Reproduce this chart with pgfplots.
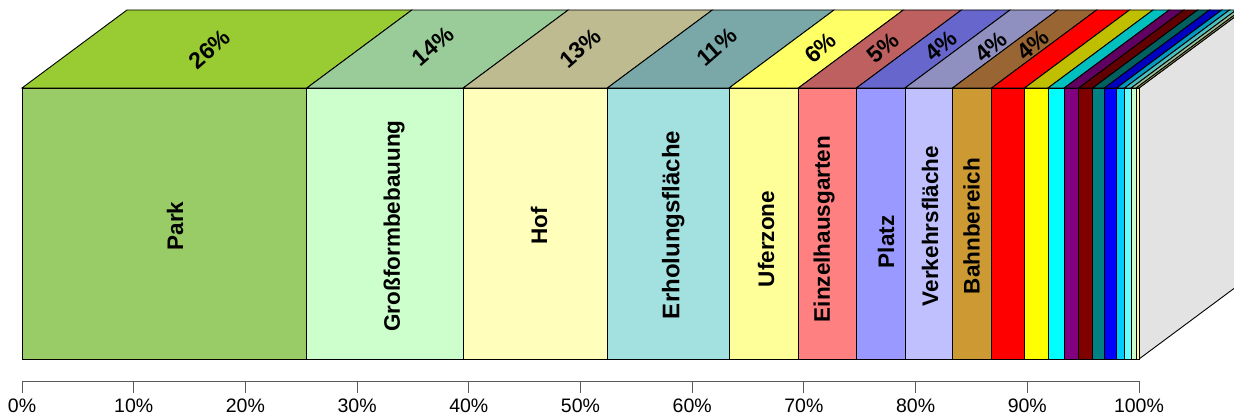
\documentclass[border=0pt]{standalone}
\usepackage{fontspec}
\setmainfont{Liberation Sans}
\usepackage{pgfplots}
\pgfplotsset{compat=1.18}
% one block: left/right edge of the front face, the same edges shifted along the depth, front and top colours
\newcommand{\slab}[6]{%
  \addplot[draw=black,line width=0.9pt,fill={#6}] coordinates {(#1,271)(#2,271)(#4,349)(#3,349)} -- cycle;
  \addplot[draw=black,line width=0.9pt,fill={#5}] coordinates {(#1,0)(#2,0)(#2,271)(#1,271)} -- cycle;
}
\definecolor{f1}{HTML}{99CC66}\definecolor{t1}{HTML}{99CC33}
\definecolor{f2}{HTML}{CCFFCC}\definecolor{t2}{HTML}{99CC99}
\definecolor{f3}{HTML}{FFFFBB}\definecolor{t3}{HTML}{BFBB90}
\definecolor{f4}{HTML}{A3E0E0}\definecolor{t4}{HTML}{7AA8A8}
\definecolor{f5}{HTML}{FFFF99}\definecolor{t5}{HTML}{FFFF66}
\definecolor{f6}{HTML}{FF8080}\definecolor{t6}{HTML}{BF6060}
\definecolor{f7}{HTML}{9999FF}\definecolor{t7}{HTML}{6666CC}
\definecolor{f8}{HTML}{C0C0FF}\definecolor{t8}{HTML}{9090C0}
\definecolor{f9}{HTML}{CC9933}\definecolor{t9}{HTML}{996633}
\definecolor{f10}{HTML}{FF0000}\definecolor{t10}{HTML}{FF0000}
\definecolor{f11}{HTML}{FFFF00}\definecolor{t11}{HTML}{BFBF00}
\definecolor{f12}{HTML}{00FFFF}\definecolor{t12}{HTML}{00BFBF}
\definecolor{f13}{HTML}{800080}\definecolor{t13}{HTML}{600060}
\definecolor{f14}{HTML}{800000}\definecolor{t14}{HTML}{600000}
\definecolor{f15}{HTML}{008080}\definecolor{t15}{HTML}{006060}
\definecolor{f16}{HTML}{0000FF}\definecolor{t16}{HTML}{0000C0}
\definecolor{f17}{HTML}{00CCFF}\definecolor{t17}{HTML}{0099BF}
\definecolor{f18}{HTML}{66FFFF}\definecolor{t18}{HTML}{4DBFBF}
\definecolor{f19}{HTML}{CCFFCC}\definecolor{t19}{HTML}{99BF99}
\definecolor{f20}{HTML}{FFFF99}\definecolor{t20}{HTML}{BFBF73}
\begin{document}
\begin{tikzpicture}[x=1pt,y=1pt]
\useasboundingbox (0,0) rectangle (1234,419);
\begin{axis}[
  at={(0pt,0pt)},anchor=south west,
  scale only axis,width=1234pt,height=419pt,
  xmin=-1.97,xmax=108.5,ymin=-60,ymax=359,
  hide axis,
]
  % right-hand side wall of the block
  \addplot[draw=black,line width=0.9pt,fill={rgb,255:red,227;green,227;blue,227}] coordinates {(100,0)(109.4,78)(109.4,349)(100,271)} -- cycle;
  \slab{0}{25.5}{9.4}{34.9}{f1}{t1}
  \slab{25.5}{39.5}{34.9}{48.9}{f2}{t2}
  \slab{39.5}{52.4}{48.9}{61.8}{f3}{t3}
  \slab{52.4}{63.3}{61.8}{72.7}{f4}{t4}
  \slab{63.3}{69.5}{72.7}{78.9}{f5}{t5}
  \slab{69.5}{74.7}{78.9}{84.1}{f6}{t6}
  \slab{74.7}{79.05}{84.1}{88.45}{f7}{t7}
  \slab{79.05}{83.3}{88.45}{92.7}{f8}{t8}
  \slab{83.3}{86.8}{92.7}{96.2}{f9}{t9}
  \slab{86.8}{89.75}{96.2}{99.15}{f10}{t10}
  \slab{89.75}{91.85}{99.15}{101.25}{f11}{t11}
  \slab{91.85}{93.3}{101.25}{102.7}{f12}{t12}
  \slab{93.3}{94.6}{102.7}{104}{f13}{t13}
  \slab{94.6}{95.85}{104}{105.25}{f14}{t14}
  \slab{95.85}{96.9}{105.25}{106.3}{f15}{t15}
  \slab{96.9}{98}{106.3}{107.4}{f16}{t16}
  \slab{98}{98.7}{107.4}{108.1}{f17}{t17}
  \slab{98.7}{99.3}{108.1}{108.7}{f18}{t18}
  \slab{99.3}{99.75}{108.7}{109.15}{f19}{t19}
  \slab{99.75}{100}{109.15}{109.4}{f20}{t20}
  % category names on the front faces
  \addplot[draw=none,no markers,point meta=explicit symbolic,nodes near coords,
    nodes near coords style={rotate=90,anchor=center,inner sep=0pt,font=\fontsize{22.5}{22.5}\selectfont\bfseries}]
    table[meta=label] {
    x y label
    13.7 133 Park
    33.3 133 Großformbebauung
    46.3 133 Hof
    66.6 120 Uferzone
    71.8 130 Einzelhausgarten
    77.35 117 Platz
    81.3 133 Verkehrsfläche
    85 133 Bahnbereich
  };
  \addplot[draw=none,no markers,point meta=explicit symbolic,nodes near coords,
    nodes near coords style={rotate=90,anchor=center,inner sep=0pt,font=\fontsize{24}{24}\selectfont\bfseries}]
    table[meta=label] {
    x y label
    58.3 134 Erholungsfläche
  };
  % shares on the top faces
  \addplot[draw=none,no markers,point meta=explicit symbolic,nodes near coords,
    nodes near coords style={rotate=41,anchor=center,inner sep=0pt,font=\fontsize{23}{23}\selectfont\bfseries}]
    table[meta=label] {
    x y label
    16.8 310 26\%
    36.8 313 14\%
    50 311 13\%
    62.2 312 11\%
    71.5 311 6\%
    77.1 311 5\%
    82.3 313 4\%
    86.75 312 4\%
    90.5 314 4\%
  };
\end{axis}
\begin{axis}[
  at={(22pt,38pt)},anchor=south west,
  scale only axis,width=1117pt,height=1pt,
  xmin=0,xmax=100,ymin=0,ymax=1,
  axis y line=none,axis x line=bottom,
  axis line style={-,draw=black!65,line width=0.9pt},
  xtick distance=10,
  tick align=outside,tick style={draw=black!65,line width=0.9pt},
  major tick length=12pt,
  xticklabel={\pgfmathprintnumber{\tick}\%},
  /pgf/number format/assume math mode=true,
  tick label style={font=\fontsize{19.5}{19.5}\selectfont,inner sep=0pt},
  xticklabel shift=6pt,
]
\end{axis}
\end{tikzpicture}
\end{document}
